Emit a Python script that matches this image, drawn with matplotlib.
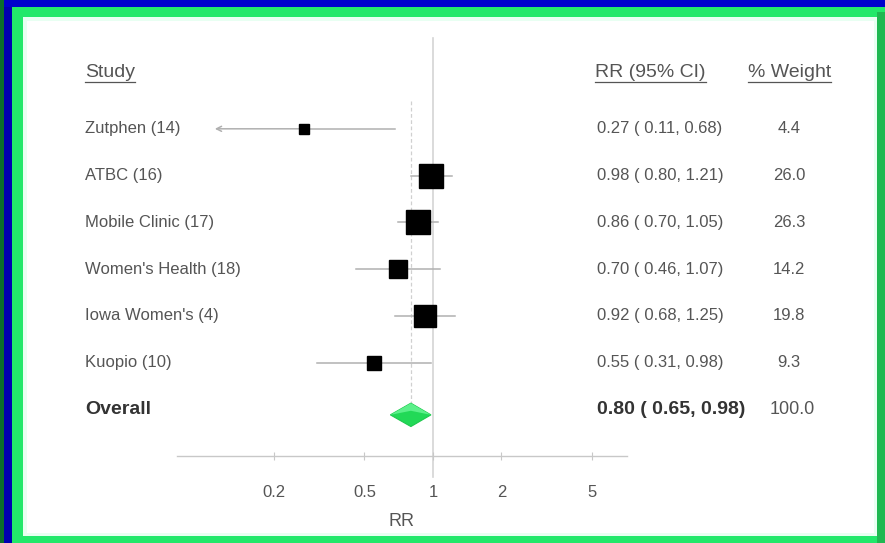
import matplotlib
matplotlib.use('Agg')
import matplotlib.pyplot as plt
from matplotlib.patches import Rectangle, Polygon
import matplotlib.transforms as mtransforms

plt.rcParams['font.family'] = ['Liberation Sans', 'DejaVu Sans']

# ---------------- data ----------------
studies = ["Zutphen (14)", "ATBC (16)", "Mobile Clinic (17)", "Women's Health (18)",
           "Iowa Women's (4)", "Kuopio (10)"]
rr = [0.27, 0.98, 0.86, 0.70, 0.92, 0.55]
ci_lo = [0.11, 0.80, 0.70, 0.46, 0.68, 0.31]
ci_hi = [0.68, 1.21, 1.05, 1.07, 1.25, 0.98]
weights = [4.4, 26.0, 26.3, 14.2, 19.8, 9.3]
arrow_left = [True, False, False, False, False, False]
overall_label = "Overall"
overall_rr, overall_lo, overall_hi = 0.80, 0.65, 0.98
overall_weight = 100.0
xticks = [0.2, 0.5, 1, 2, 5]
xticklabels = ["0.2", "0.5", "1", "2", "5"]
headers = ["Study", "RR (95% CI)", "% Weight"]
xlabel = "RR"

# ---------------- figure ----------------
W, H = 885, 543
fig = plt.figure(figsize=(W / 100, H / 100), dpi=100)
fig.patch.set_facecolor('#0000cc')

bg = fig.add_axes([0, 0, 1, 1], zorder=0)
bg.set_xlim(0, W)
bg.set_ylim(H, 0)
bg.axis('off')

def rect(x0, y0, x1, y1, color):
    bg.add_patch(Rectangle((x0, y0), x1 - x0, y1 - y0, facecolor=color,
                           edgecolor='none'))

rect(0, 0, 4, H, '#0b6e2c')
rect(4, 7, 12, H, '#0000b0')
rect(12, 7, W, H, '#22e86a')
rect(877, 12, W, H, '#1fb851')
rect(23, 17, 877, 536, '#e8fff2')
rect(27, 21, 874, 533, '#ffffff')

# main forest axes
ax = fig.add_axes([177 / W, (H - 456) / H, 450 / W, 416 / H], zorder=1)
ax.patch.set_alpha(0)
ax.set_xscale('log')
ax.set_xlim(0.075, 7.13)
ax.set_ylim(7, -1.9)
for s in ['top', 'right', 'left']:
    ax.spines[s].set_visible(False)
ax.spines['bottom'].set_color('#c8c8c8')
ax.spines['bottom'].set_linewidth(1.0)
ax.set_yticks([])
ax.set_xticks(xticks)
ax.set_xticklabels(xticklabels)
ax.xaxis.set_minor_locator(matplotlib.ticker.NullLocator())
ax.tick_params(axis='x', direction='inout', length=6, width=0.8, color='#c8c8c8',
               labelsize=12, labelcolor='#555555', pad=18)
ax.set_xlabel(xlabel, fontsize=13, color='#555555', labelpad=9)

gray = '#555555'
line_gray = '#b0b0b0'

# reference line at 1
ax.plot([1, 1], [-1.95, 7.45], color='#d4d4d4', lw=1.2, clip_on=False, zorder=1)
# overall dashed line
ax.plot([overall_rr, overall_rr], [-0.6, 5.9], color='#d0d0d0', lw=0.9,
        ls=(0, (3, 2)), zorder=1)

for i in range(len(studies)):
    if arrow_left[i]:
        ax.plot([rr[i], ci_hi[i]], [i, i], color=line_gray, lw=1.1, zorder=2)
        ax.annotate('', xy=(ci_lo[i], i), xytext=(rr[i], i),
                    arrowprops=dict(arrowstyle='->', color=line_gray, lw=1.1,
                                    shrinkA=0, shrinkB=0, mutation_scale=9))
    else:
        ax.plot([ci_lo[i], ci_hi[i]], [i, i], color=line_gray, lw=1.1, zorder=2)
    ms = 3.5 * weights[i] ** 0.5
    ax.plot([rr[i]], [i], marker='s', ms=ms, color='black', mec='black', zorder=3)

# overall diamond
yo = len(studies) + 0.12
dh = 0.25
diamond = Polygon([(overall_lo, yo), (overall_rr, yo - dh), (overall_hi, yo),
                   (overall_rr, yo + dh)], closed=True, facecolor='#22d957',
                  edgecolor='#1fc84e', lw=0.8, zorder=3)
ax.add_patch(diamond)
# lighter upper facet
facet = Polygon([(overall_lo, yo), (overall_rr, yo - dh), (overall_hi, yo),
                 (overall_rr, yo - dh * 0.35)], closed=True, facecolor='#5cf08a',
                edgecolor='none', zorder=3.5)
ax.add_patch(facet)

# text columns
tr = mtransforms.blended_transform_factory(fig.transFigure, ax.transData)
hdr_texts = []
hdr_texts.append(fig.text(85 / W, -1.2, headers[0], transform=tr, fontsize=14,
                          color=gray, va='center', ha='left'))
hdr_texts.append(fig.text(595 / W, -1.2, headers[1], transform=tr, fontsize=14,
                          color=gray, va='center', ha='left'))
hdr_texts.append(fig.text(748 / W, -1.2, headers[2], transform=tr, fontsize=14,
                          color=gray, va='center', ha='left'))

for i, name in enumerate(studies):
    fig.text(85 / W, i, name, transform=tr, fontsize=12, color=gray,
             va='center', ha='left')
    fig.text(597 / W, i, f"{rr[i]:.2f} ( {ci_lo[i]:.2f}, {ci_hi[i]:.2f})",
             transform=tr, fontsize=12, color=gray, va='center', ha='left')
    fig.text(789 / W, i, f"{weights[i]:.1f}", transform=tr, fontsize=12,
             color=gray, va='center', ha='center')

n = len(studies)
fig.text(85 / W, n, overall_label, transform=tr, fontsize=14, color='#333333',
         fontweight='bold', va='center', ha='left')
fig.text(597 / W, n, f"{overall_rr:.2f} ( {overall_lo:.2f}, {overall_hi:.2f})",
         transform=tr, fontsize=14, color='#333333', fontweight='bold',
         va='center', ha='left')
fig.text(792 / W, n, f"{overall_weight:.1f}", transform=tr, fontsize=13,
         color=gray, va='center', ha='center')

# underline headers
fig.canvas.draw()
renderer = fig.canvas.get_renderer()
for t in hdr_texts:
    bb = t.get_window_extent(renderer)
    yline = H - bb.y0 + 1
    bg.plot([bb.x0, bb.x1], [yline, yline], color=gray, lw=0.9)

fig.savefig('out.png', dpi=100, facecolor=fig.get_facecolor())
